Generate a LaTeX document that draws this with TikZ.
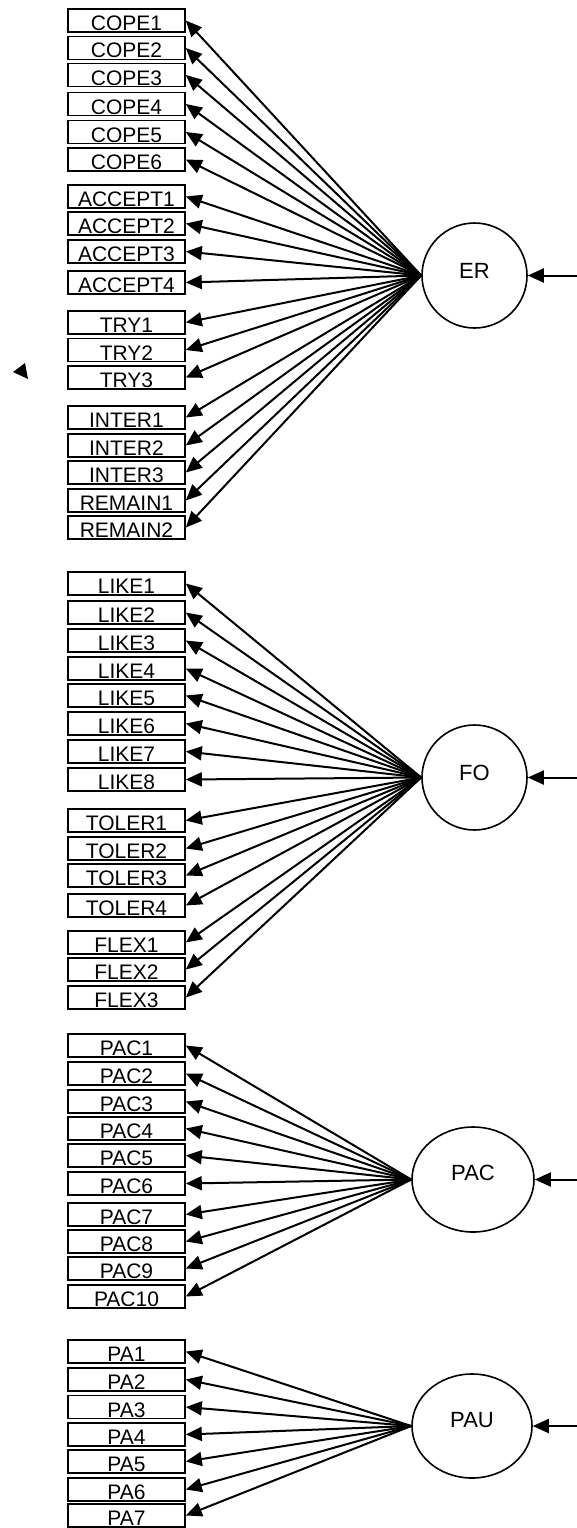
\documentclass[tikz,border=0pt]{standalone}
\usepackage{fontspec}
\setmainfont{Liberation Sans}
\usetikzlibrary{arrows.meta,shapes.geometric}

\tikzset{
  ind/.style={draw, rectangle, line width=1.6pt, inner sep=0pt, minimum width=117pt,
    text height=21.5pt, text depth=1.5pt, font=\fontsize{21}{21}\selectfont},
  lat/.style={draw, ellipse, line width=1.6pt, inner sep=0pt,
    text height=16pt, text depth=10pt, font=\fontsize{22}{22}\selectfont},
}

\begin{document}
\begin{tikzpicture}[x=1pt, y=-1pt, >={Triangle[length=16pt,width=14pt]}, line width=2pt]
	\useasboundingbox (0,0) rectangle (577,1528);

	% Latent factors
	\node [lat, minimum width=105pt, minimum height=105pt] (ER)  at (474.5,275.5) {ER};
	\node [lat, minimum width=105pt, minimum height=105pt] (FO)  at (474.5,777.5) {FO};
	\node [lat, minimum width=122pt, minimum height=105pt, text height=14pt, text depth=13pt] (PAC) at (473,1179.5) {PAC};
	\node [lat, minimum width=120pt, minimum height=104pt, text height=15pt, text depth=12pt] (PAU) at (472,1426) {PAU};

	% Free ends of the residual arrows
	\coordinate (er-in)  at (577,275.5);
	\coordinate (fo-in)  at (577,777.5);
	\coordinate (pac-in) at (577,1179.5);
	\coordinate (pau-in) at (577,1426);

	% Indicators of ER
	\node [ind] (cope1)   at (126.5,20.5)  {COPE1};
	\node [ind] (cope2)   at (126.5,48)    {COPE2};
	\node [ind] (cope3)   at (126.5,75)    {COPE3};
	\node [ind] (cope4)   at (126.5,104)   {COPE4};
	\node [ind] (cope5)   at (126.5,132)   {COPE5};
	\node [ind] (cope6)   at (126.5,159.5) {COPE6};
	\node [ind] (accept1) at (126.5,196.5) {ACCEPT1};
	\node [ind] (accept2) at (126.5,223.5) {ACCEPT2};
	\node [ind] (accept3) at (126.5,251.5) {ACCEPT3};
	\node [ind] (accept4) at (126.5,282.5) {ACCEPT4};
	\node [ind] (try1)    at (126.5,322.5) {TRY1};
	\node [ind] (try2)    at (126.5,350)   {TRY2};
	\node [ind] (try3)    at (126.5,377.5) {TRY3};
	\node [ind] (inter1)  at (126.5,417.5) {INTER1};
	\node [ind] (inter2)  at (126.5,445.5) {INTER2};
	\node [ind] (inter3)  at (126.5,472.5) {INTER3};
	\node [ind] (remain1) at (126.5,500.5) {REMAIN1};
	\node [ind] (remain2) at (126.5,527.5) {REMAIN2};

	% Indicators of FO
	\node [ind] (like1)   at (126.5,583.5) {LIKE1};
	\node [ind] (like2)   at (126.5,612.5) {LIKE2};
	\node [ind] (like3)   at (126.5,640.5) {LIKE3};
	\node [ind] (like4)   at (126.5,668.5) {LIKE4};
	\node [ind] (like5)   at (126.5,695.5) {LIKE5};
	\node [ind] (like6)   at (126.5,723.5) {LIKE6};
	\node [ind] (like7)   at (126.5,751.5) {LIKE7};
	\node [ind] (like8)   at (126.5,779.5) {LIKE8};
	\node [ind] (toler1)  at (126.5,820.5) {TOLER1};
	\node [ind] (toler2)  at (126.5,848.5) {TOLER2};
	\node [ind] (toler3)  at (126.5,875.5) {TOLER3};
	\node [ind] (toler4)  at (126.5,905.5) {TOLER4};
	\node [ind] (flex1)   at (126.5,942.5) {FLEX1};
	\node [ind] (flex2)   at (126.5,969.5) {FLEX2};
	\node [ind] (flex3)   at (126.5,997.5) {FLEX3};

	% Indicators of PAC
	\node [ind] (pac1)    at (126.5,1045.5) {PAC1};
	\node [ind] (pac2)    at (126.5,1073.5) {PAC2};
	\node [ind] (pac3)    at (126.5,1101.5) {PAC3};
	\node [ind] (pac4)    at (126.5,1128.5) {PAC4};
	\node [ind] (pac5)    at (126.5,1155.5) {PAC5};
	\node [ind] (pac6)    at (126.5,1183.5) {PAC6};
	\node [ind] (pac7)    at (126.5,1214.5) {PAC7};
	\node [ind] (pac8)    at (126.5,1241.5) {PAC8};
	\node [ind] (pac9)    at (126.5,1268.5) {PAC9};
	\node [ind] (pac10)   at (126.5,1296.5) {PAC10};

	% Indicators of PAU
	\node [ind] (pa1)     at (126.5,1351.5) {PA1};
	\node [ind] (pa2)     at (126.5,1379.5) {PA2};
	\node [ind] (pa3)     at (126.5,1407)   {PA3};
	\node [ind] (pa4)     at (126.5,1434.5) {PA4};
	\node [ind] (pa5)     at (126.5,1461.5) {PA5};
	\node [ind] (pa6)     at (126.5,1489.5) {PA6};
	\node [ind] (pa7)     at (126.5,1515.5) {PA7};

	% Loadings of ER
	\path [->] (ER.west) edge (cope1.east);
	\path [->] (ER.west) edge (cope2.east);
	\path [->] (ER.west) edge (cope3.east);
	\path [->] (ER.west) edge (cope4.east);
	\path [->] (ER.west) edge (cope5.east);
	\path [->] (ER.west) edge (cope6.east);
	\path [->] (ER.west) edge (accept1.east);
	\path [->] (ER.west) edge (accept2.east);
	\path [->] (ER.west) edge (accept3.east);
	\path [->] (ER.west) edge (accept4.east);
	\path [->] (ER.west) edge (try1.east);
	\path [->] (ER.west) edge (try2.east);
	\path [->] (ER.west) edge (try3.east);
	\path [->] (ER.west) edge (inter1.east);
	\path [->] (ER.west) edge (inter2.east);
	\path [->] (ER.west) edge (inter3.east);
	\path [->] (ER.west) edge (remain1.east);
	\path [->] (ER.west) edge (remain2.east);

	% Loadings of FO
	\path [->] (FO.west) edge (like1.east);
	\path [->] (FO.west) edge (like2.east);
	\path [->] (FO.west) edge (like3.east);
	\path [->] (FO.west) edge (like4.east);
	\path [->] (FO.west) edge (like5.east);
	\path [->] (FO.west) edge (like6.east);
	\path [->] (FO.west) edge (like7.east);
	\path [->] (FO.west) edge (like8.east);
	\path [->] (FO.west) edge (toler1.east);
	\path [->] (FO.west) edge (toler2.east);
	\path [->] (FO.west) edge (toler3.east);
	\path [->] (FO.west) edge (toler4.east);
	\path [->] (FO.west) edge (flex1.east);
	\path [->] (FO.west) edge (flex2.east);
	\path [->] (FO.west) edge (flex3.east);

	% Loadings of PAC
	\path [->] (PAC.west) edge (pac1.east);
	\path [->] (PAC.west) edge (pac2.east);
	\path [->] (PAC.west) edge (pac3.east);
	\path [->] (PAC.west) edge (pac4.east);
	\path [->] (PAC.west) edge (pac5.east);
	\path [->] (PAC.west) edge (pac6.east);
	\path [->] (PAC.west) edge (pac7.east);
	\path [->] (PAC.west) edge (pac8.east);
	\path [->] (PAC.west) edge (pac9.east);
	\path [->] (PAC.west) edge (pac10.east);

	% Loadings of PAU
	\path [->] (PAU.west) edge (pa1.east);
	\path [->] (PAU.west) edge (pa2.east);
	\path [->] (PAU.west) edge (pa3.east);
	\path [->] (PAU.west) edge (pa4.east);
	\path [->] (PAU.west) edge (pa5.east);
	\path [->] (PAU.west) edge (pa6.east);
	\path [->] (PAU.west) edge (pa7.east);

	% Residual arrows coming in from the right
	\path [->] (er-in)  edge (ER);
	\path [->] (fo-in)  edge (FO);
	\path [->] (pac-in) edge (PAC);
	\path [->] (pau-in) edge (PAU);

	% Loose arrow tip left of TRY3
	\fill (13,372) -- (25,363) -- (28,379) -- cycle;
\end{tikzpicture}
\end{document}
